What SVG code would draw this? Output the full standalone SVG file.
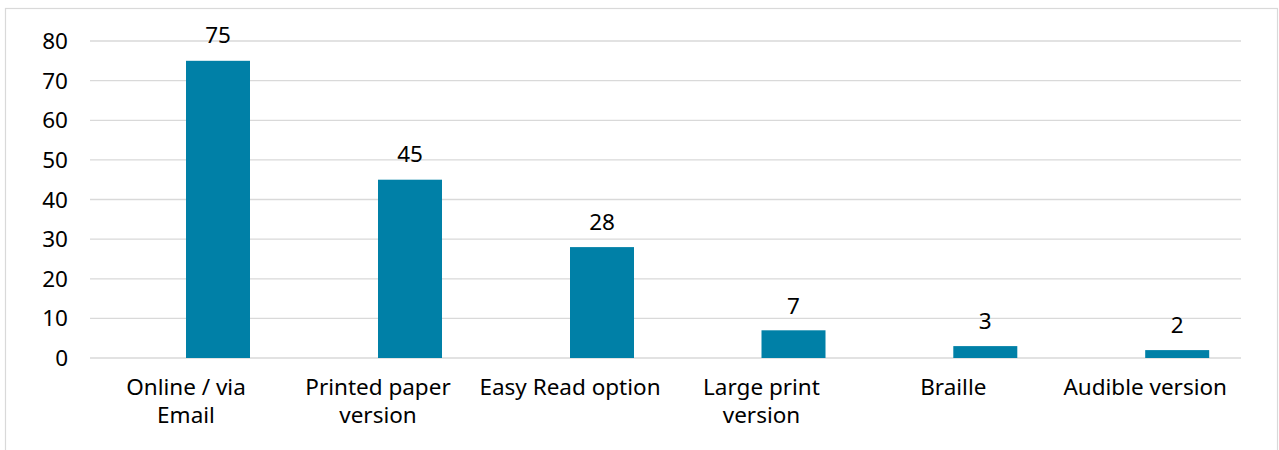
<svg xmlns="http://www.w3.org/2000/svg" width="1279" height="450" viewBox="0 0 1279 450">
  <style>
    .grid { stroke: #d9d9d9; stroke-width: 1.3; }
    .bar { fill: #0080a7; }
    .txt { font-family: "Noto Sans", "DejaVu Sans", sans-serif; font-size: 22.5px; fill: #000; }
    .ax { text-anchor: end; }
    .mid { text-anchor: middle; }
  </style>
  <rect width="1279" height="450" fill="#ffffff"/>
  <!-- chart frame -->
  <rect x="5.5" y="8.5" width="1272" height="470" fill="none" stroke="#d9d9d9" stroke-width="1.2"/>

  <!-- value gridlines: 0 at y=358, 10 units = 39.625 px -->
  <g id="gridlines">
    <line class="grid" x1="90" y1="41" x2="1241" y2="41"/>
    <line class="grid" x1="90" y1="80.6" x2="1241" y2="80.6"/>
    <line class="grid" x1="90" y1="120.3" x2="1241" y2="120.3"/>
    <line class="grid" x1="90" y1="159.9" x2="1241" y2="159.9"/>
    <line class="grid" x1="90" y1="199.5" x2="1241" y2="199.5"/>
    <line class="grid" x1="90" y1="239.1" x2="1241" y2="239.1"/>
    <line class="grid" x1="90" y1="278.8" x2="1241" y2="278.8"/>
    <line class="grid" x1="90" y1="318.4" x2="1241" y2="318.4"/>
    <line class="grid" x1="90" y1="358" x2="1241" y2="358"/>
  </g>

  <g id="y-axis" class="txt ax">
    <text x="68" y="49">80</text>
    <text x="68" y="88.6">70</text>
    <text x="68" y="128.3">60</text>
    <text x="68" y="167.9">50</text>
    <text x="68" y="207.5">40</text>
    <text x="68" y="247.1">30</text>
    <text x="68" y="286.8">20</text>
    <text x="68" y="326.4">10</text>
    <text x="68" y="366">0</text>
  </g>

  <g id="bar-online">
    <rect class="bar" x="186" y="60.8" width="64" height="297.2"/>
    <text class="txt mid" x="218" y="43">75</text>
    <text class="txt mid" x="186" y="395">Online / via</text>
    <text class="txt mid" x="186" y="423">Email</text>
  </g>
  <g id="bar-printed">
    <rect class="bar" x="378" y="179.7" width="64" height="178.3"/>
    <text class="txt mid" x="410" y="162">45</text>
    <text class="txt mid" x="378" y="395">Printed paper</text>
    <text class="txt mid" x="378" y="423">version</text>
  </g>
  <g id="bar-easyread">
    <rect class="bar" x="570" y="247.1" width="64" height="110.9"/>
    <text class="txt mid" x="602" y="230">28</text>
    <text class="txt mid" x="570" y="395">Easy Read option</text>
  </g>
  <g id="bar-largeprint">
    <rect class="bar" x="761.5" y="330.3" width="64" height="27.7"/>
    <text class="txt mid" x="793.5" y="313.5">7</text>
    <text class="txt mid" x="761.5" y="395">Large print</text>
    <text class="txt mid" x="761.5" y="423">version</text>
  </g>
  <g id="bar-braille">
    <rect class="bar" x="953.3" y="346.1" width="64" height="11.9"/>
    <text class="txt mid" x="985.3" y="329">3</text>
    <text class="txt mid" x="953.3" y="395">Braille</text>
  </g>
  <g id="bar-audible">
    <rect class="bar" x="1145.2" y="350.1" width="64" height="7.9"/>
    <text class="txt mid" x="1177.2" y="333">2</text>
    <text class="txt mid" x="1145.2" y="395">Audible version</text>
  </g>
</svg>
